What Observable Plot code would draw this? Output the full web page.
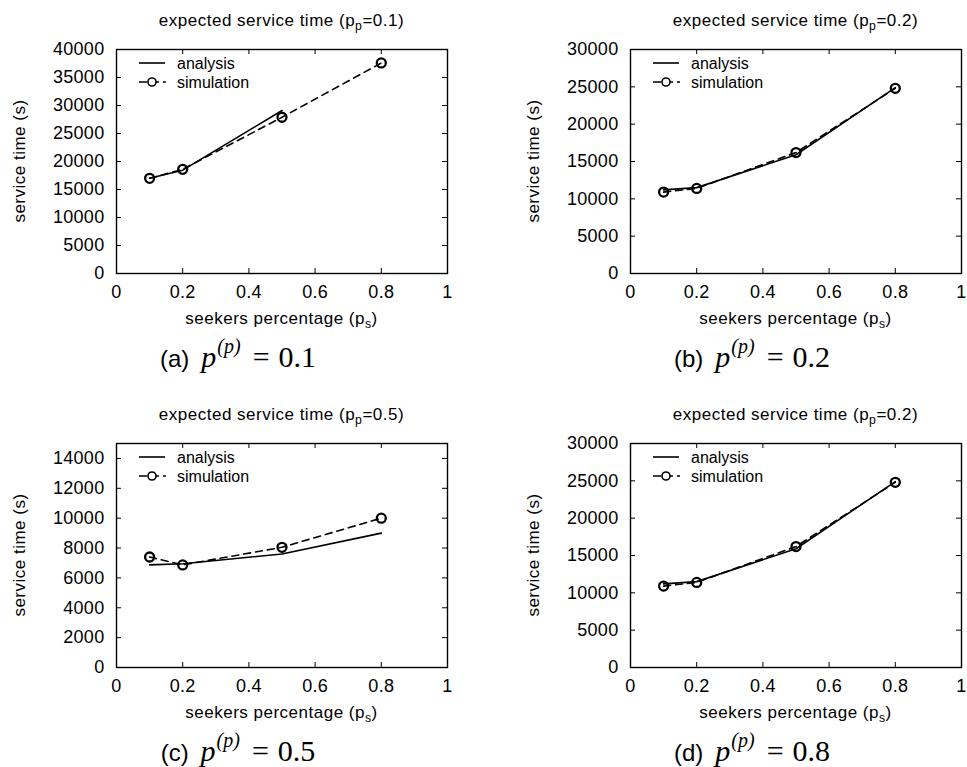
<!DOCTYPE html>
<html><head><meta charset="utf-8">
<script src="https://cdn.jsdelivr.net/npm/d3@7"></script>
<script src="https://cdn.jsdelivr.net/npm/@observablehq/plot@0.6"></script>
<style>
html,body{margin:0;padding:0;background:#fff;}
#fig{position:relative;width:967px;height:767px;overflow:hidden;font-family:"Liberation Sans",Arial,Helvetica,sans-serif;color:#000;background:#fff;}
.abs{position:absolute;white-space:nowrap;line-height:1;}
.title,.xlab{font-size:17px;letter-spacing:0.5px;transform:translate(-50%,-50%);}
.ylab{font-size:17px;letter-spacing:0.5px;transform:translate(-50%,-50%) rotate(-90deg);}
.sub{font-size:0.72em;position:relative;top:0.32em;}
.cap{transform:translate(-50%,-50%);}
.cap .lab{font-size:24px;font-family:"Liberation Sans",Arial,sans-serif;}
.cap .m{font-family:"Liberation Serif","Times New Roman",serif;font-size:30px;}
.cap .mi{font-style:italic;margin-left:12px;}
.cap .sup{font-family:"Liberation Serif",serif;font-style:italic;font-size:20px;position:relative;top:-0.7em;margin-left:1px;}
.cap .eq{margin:0 9px 0 12px;}
.plotbox{position:absolute;}
.plotbox svg{max-width:none !important;overflow:visible;}
</style>
</head><body>
<div id="fig"></div>
<script>
// ---- data ----
const xTicks = [0, 0.2, 0.4, 0.6, 0.8, 1];
const seekers = [0.1, 0.2, 0.5, 0.8];

const yTicksA = [0, 5000, 10000, 15000, 20000, 25000, 30000, 35000, 40000];
const analysisA = [17000, 18450, 29100];          // analysis stops at 0.5
const simulationA = [17000, 18600, 27900, 37600];

const yTicksB = [0, 5000, 10000, 15000, 20000, 25000, 30000];
const analysisB = [11200, 11500, 15900, 24900];
const simulationB = [10900, 11400, 16200, 24800];

const yTicksC = [0, 2000, 4000, 6000, 8000, 10000, 12000, 14000];
const analysisC = [6870, 6950, 7600, 9000];
const simulationC = [7400, 6870, 8050, 10000];

const yTicksD = [0, 5000, 10000, 15000, 20000, 25000, 30000];
const analysisD = [11200, 11500, 15900, 24900];
const simulationD = [10900, 11400, 16200, 24800];

const titlesPp = ["0.1", "0.2", "0.5", "0.2"];
const captionLetters = ["a", "b", "c", "d"];
const captionValues = ["0.1", "0.2", "0.5", "0.8"];
const yMaxes = [40000, 30000, 15000, 30000];
const legendLabels = ["analysis", "simulation"];

// ---- layout ----
const W = 480, H = 340, mT = 49, mB = 67, mL = 116, mR = 33;
const innerH = H - mT - mB, innerW = W - mL - mR;
const offsets = [[0, 0], [514, 0], [0, 394], [514, 394]];
const panels = [
  {yTicks: yTicksA, an: analysisA, sim: simulationA},
  {yTicks: yTicksB, an: analysisB, sim: simulationB},
  {yTicks: yTicksC, an: analysisC, sim: simulationC},
  {yTicks: yTicksD, an: analysisD, sim: simulationD}
];

const fig = document.getElementById("fig");
const toRows = arr => arr.map((v, i) => ({x: seekers[i], y: v}));

panels.forEach((p, i) => {
  const [ox, oy] = offsets[i];
  const an = toRows(p.an), sim = toRows(p.sim);
  const chart = Plot.plot({
    width: W, height: H,
    marginTop: mT, marginBottom: mB, marginLeft: mL, marginRight: mR,
    style: {fontSize: "18px", fontFamily: '"Liberation Sans", Arial, sans-serif', color: "black", background: "transparent", letterSpacing: "0.3px"},
    x: {domain: [0, 1]},
    y: {domain: [0, yMaxes[i]]},
    marks: [
      Plot.tickX(xTicks, {x: d => d, insetTop: innerH - 5, stroke: "black", strokeWidth: 1}),
      Plot.tickX(xTicks, {x: d => d, insetBottom: innerH - 5, stroke: "black", strokeWidth: 1}),
      Plot.tickY(p.yTicks, {y: d => d, insetRight: innerW - 5, stroke: "black", strokeWidth: 1}),
      Plot.tickY(p.yTicks, {y: d => d, insetLeft: innerW - 5, stroke: "black", strokeWidth: 1}),
      Plot.axisX({ticks: xTicks, tickSize: 0, tickPadding: 12, tickFormat: d => String(d), label: null, fill: "black"}),
      Plot.axisY({ticks: p.yTicks, tickSize: 0, tickPadding: 12, tickFormat: d => String(d), label: null, fill: "black"}),
      Plot.line(an, {x: "x", y: "y", stroke: "black", strokeWidth: 1.6}),
      Plot.line(sim, {x: "x", y: "y", stroke: "black", strokeWidth: 1.6, strokeDasharray: "7,5"}),
      Plot.dot(sim, {x: "x", y: "y", r: 4.5, stroke: "black", strokeWidth: 2.3, fill: "none"}),
      Plot.frame({stroke: "black", strokeWidth: 1.4})
    ]
  });
  const box = document.createElement("div");
  box.className = "plotbox";
  box.style.left = ox + "px"; box.style.top = oy + "px";
  box.appendChild(chart);
  fig.appendChild(box);

  // legend overlay
  const ns = "http://www.w3.org/2000/svg";
  const lg = document.createElementNS(ns, "svg");
  lg.setAttribute("width", 160); lg.setAttribute("height", 50);
  lg.style.position = "absolute";
  lg.style.left = (ox + mL) + "px"; lg.style.top = (oy + mT) + "px";
  lg.innerHTML =
    `<line x1="23" x2="49" y1="14" y2="14" stroke="black" stroke-width="1.6"/>` +
    `<line x1="23" x2="50" y1="33" y2="33" stroke="black" stroke-width="1.6" stroke-dasharray="8,4"/>` +
    `<circle cx="36" cy="33" r="4" fill="white" stroke="black" stroke-width="1.6"/>` +
    `<text x="61" y="14" dy="0.35em" font-size="16" font-family="Liberation Sans, Arial, sans-serif">${legendLabels[0]}</text>` +
    `<text x="61" y="33" dy="0.35em" font-size="16" font-family="Liberation Sans, Arial, sans-serif">${legendLabels[1]}</text>`;
  fig.appendChild(lg);

  const cx = ox + mL + innerW / 2;
  const t = document.createElement("div");
  t.className = "abs title";
  t.style.left = cx + "px"; t.style.top = (oy + 20) + "px";
  t.innerHTML = `expected service time (p<span class="sub">p</span>=${titlesPp[i]})`;
  fig.appendChild(t);

  const xl = document.createElement("div");
  xl.className = "abs xlab";
  xl.style.left = cx + "px"; xl.style.top = (oy + 318) + "px";
  xl.innerHTML = `seekers percentage (p<span class="sub">s</span>)`;
  fig.appendChild(xl);

  const yl = document.createElement("div");
  yl.className = "abs ylab";
  yl.style.left = (ox + 19) + "px"; yl.style.top = (oy + mT + innerH / 2) + "px";
  yl.textContent = "service time (s)";
  fig.appendChild(yl);

  const cap = document.createElement("div");
  cap.className = "abs cap";
  cap.style.left = (ox + 238) + "px"; cap.style.top = (oy + 357) + "px";
  cap.innerHTML = `<span class="lab">(${captionLetters[i]})</span><span class="m mi">p</span><span class="sup">(p)</span><span class="m eq">=</span><span class="m">${captionValues[i]}</span>`;
  fig.appendChild(cap);
});
</script>
</body></html>
